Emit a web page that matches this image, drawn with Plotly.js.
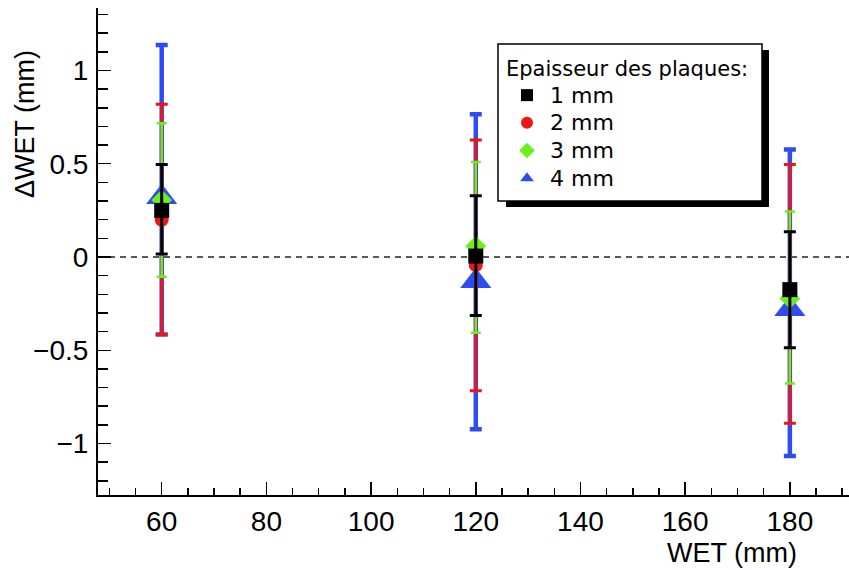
<!DOCTYPE html>
<html>
<head>
<meta charset="utf-8">
<script src="https://cdn.plot.ly/plotly-3.0.1.min.js"></script>
<style>html,body{margin:0;padding:0;background:#fff;}#chart{width:849px;height:570px;}</style>
</head>
<body>
<div id="chart"></div>
<script>
// Data
var wet = [60, 120, 180];
var names = ["1 mm", "2 mm", "3 mm", "4 mm"];

var dwet1mm = [0.25, 0.005, -0.175];
var errPlus1mm = [0.246, 0.324, 0.311];
var errMinus1mm = [0.234, 0.318, 0.312];

var dwet2mm = [0.20, -0.043, -0.198];
var errPlus2mm = [0.619, 0.670, 0.694];
var errMinus2mm = [0.615, 0.674, 0.693];

var dwet3mm = [0.305, 0.058, -0.222];
var errPlus3mm = [0.412, 0.452, 0.466];
var errMinus3mm = [0.411, 0.464, 0.456];

var dwet4mm = [0.32, -0.13, -0.28];
var errPlus4mm = [0.817, 0.895, 0.857];
var errMinus4mm = [0.735, 0.794, 0.787];

var xTickVals = [60, 80, 100, 120, 140, 160, 180];
var xTickText = ["60", "80", "100", "120", "140", "160", "180"];
var yTickVals = [-1, -0.5, 0, 0.5, 1];
var yTickText = ["\u22121", "\u22120.5", "0", "0.5", "1"];

function px2paperX(p){ return (p - 98) / 751; }
function px2paperY(p){ return (495 - p) / 487; }

function legName(s){
  return '<span style="font-family:DejaVu Sans;font-size:22px">' + s + '</span>';
}

function mk(name, y, ep, em, color, symbol, size, thick, capw, rank){
  return {
    type: 'scatter', mode: 'markers', name: legName(name), x: wet, y: y,
    legendrank: rank,
    marker: {color: color, symbol: symbol, size: size, line: {width: 0}},
    error_y: {type: 'data', symmetric: false, array: ep, arrayminus: em,
              color: color, thickness: thick, width: capw, visible: true}
  };
}

var traces = [
  mk(names[3], dwet4mm, errPlus4mm, errMinus4mm, '#2f4cf2', 'triangle-up', 27, 4.5, 6, 4),
  mk(names[1], dwet2mm, errPlus2mm, errMinus2mm, '#f01414', 'circle', 14, 3, 6, 2),
  mk(names[2], dwet3mm, errPlus3mm, errMinus3mm, '#6af01a', 'diamond', 16, 2.5, 5, 3),
  mk(names[0], dwet1mm, errPlus1mm, errMinus1mm, '#000000', 'square', 15, 3, 6, 1)
];

var tickFont = {family: 'Liberation Sans, Arial, sans-serif', size: 28, color: '#000'};

var layout = {
  width: 849, height: 570,
  margin: {l: 98, r: 0, t: 8, b: 75},
  paper_bgcolor: '#fff', plot_bgcolor: '#fff',
  showlegend: true,
  xaxis: {
    range: [47.83, 191.3], showgrid: false, zeroline: false,
    showline: true, linecolor: '#000', linewidth: 2,
    ticks: 'inside', ticklen: 13, tickwidth: 1.5, tickcolor: '#000',
    tickmode: 'array', tickvals: xTickVals, ticktext: xTickText,
    minor: {dtick: 5, tick0: 0, ticks: 'inside', ticklen: 7, tickwidth: 1.5, tickcolor: '#000', showgrid: false},
    tickfont: tickFont
  },
  yaxis: {
    range: [-1.276, 1.335], showgrid: false, zeroline: false,
    showline: true, linecolor: '#000', linewidth: 2,
    ticks: 'inside', ticklen: 13, tickwidth: 1.5, tickcolor: '#000',
    tickmode: 'array', tickvals: yTickVals, ticktext: yTickText,
    minor: {dtick: 0.1, tick0: 0, ticks: 'inside', ticklen: 10, tickwidth: 1.5, tickcolor: '#000', showgrid: false},
    tickfont: tickFont, ticklabelstandoff: 2
  },
  legend: {
    x: px2paperX(504), y: px2paperY(49), xanchor: 'left', yanchor: 'top',
    bgcolor: 'rgba(0,0,0,0)', borderwidth: 0,
    itemsizing: 'constant', itemwidth: 36,
    font: {family: 'DejaVu Sans, sans-serif', size: 19, color: '#000'},
    title: {text: 'Epaisseur des plaques:', font: {family: 'DejaVu Sans, sans-serif', size: 21, color: '#000'}}
  },
  shapes: [
    {type: 'line', xref: 'paper', yref: 'y', x0: 0, x1: 1, y0: 0, y1: 0,
     line: {color: '#222', width: 1.5, dash: '6px,5px'}, layer: 'below'},
    {type: 'rect', xref: 'paper', yref: 'paper',
     x0: px2paperX(506), x1: px2paperX(769), y0: px2paperY(50), y1: px2paperY(207),
     fillcolor: '#000', line: {width: 0}, layer: 'above'},
    {type: 'rect', xref: 'paper', yref: 'paper',
     x0: px2paperX(498), x1: px2paperX(762), y0: px2paperY(44), y1: px2paperY(201),
     fillcolor: '#fff', line: {color: '#000', width: 1.5}, layer: 'above'}
  ],
  annotations: [
    {text: '\u0394WET (mm)', textangle: -90, xref: 'paper', yref: 'paper',
     x: px2paperX(25), y: px2paperY(124), xanchor: 'center', yanchor: 'middle',
     showarrow: false, font: {family: 'Liberation Sans, Arial, sans-serif', size: 27, color: '#000'}},
    {text: 'WET (mm)', xref: 'paper', yref: 'paper',
     x: px2paperX(732), y: px2paperY(553), xanchor: 'center', yanchor: 'middle',
     showarrow: false, font: {family: 'Liberation Sans, Arial, sans-serif', size: 27, color: '#000'}}
  ]
};

Plotly.newPlot('chart', traces, layout, {displayModeBar: false, staticPlot: true});
</script>
</body>
</html>
